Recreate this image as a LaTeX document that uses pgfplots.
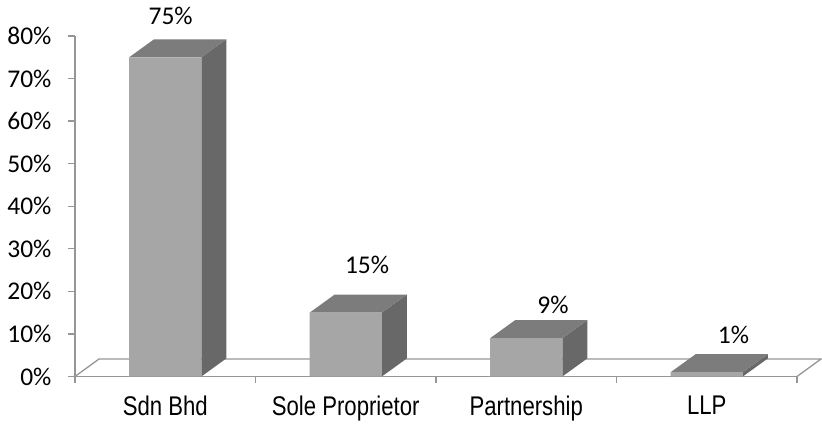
\documentclass[border=0pt]{standalone}
\usepackage{fontspec}
\setmainfont{Carlito}
\newfontfamily\narrowfont[FakeStretch=0.82]{Liberation Sans}
\usepackage{pgfplots}
\pgfplotsset{compat=1.18}
\definecolor{frontc}{RGB}{166,166,166}
\definecolor{topc}{RGB}{124,124,124}
\definecolor{sidec}{RGB}{104,104,104}
\definecolor{linec}{RGB}{150,150,150}
\begin{document}
\begin{tikzpicture}
\path[use as bounding box] (-75pt,-50.5pt) rectangle (747pt,376.5pt);
\begin{axis}[
  at={(0pt,0pt)}, anchor=south west,
  scale only axis, width=722pt, height=340.5pt,
  xmin=-0.5, xmax=3.5, ymin=0, ymax=80,
  clip=false,
  axis x line=bottom, axis y line=left,
  axis line style={draw=linec, line width=1.3pt, -},
  xtick={-0.5,0.5,1.5,2.5,3.5},
  xticklabels={Sdn Bhd,Sole Proprietor,Partnership,LLP},
  x tick label as interval,
  ytick={0,10,...,80},
  yticklabels={0\%,10\%,20\%,30\%,40\%,50\%,60\%,70\%,80\%},
  tick align=outside, major tick length=7pt,
  tick style={draw=linec, line width=1.3pt},
  every tick label/.append style={text=black},
  yticklabel style={font=\fontsize{25.5}{30}\selectfont, xshift=-13pt},
  xticklabel style={font=\narrowfont\fontsize{27}{32}\selectfont, yshift=-9pt},
  /pgf/number format/assume math mode=true,
]
% floor
\addplot[draw=linec, line width=1.3pt, mark=none] coordinates {(-0.5,0) (-0.367,4.11) (3.633,4.11) (3.5,0)};
% side faces
\addplot[fill=sidec, draw=none, mark=none] coordinates {(0.2,0) (0.338,4.23) (0.338,79.23) (0.2,75)} --cycle;
\addplot[fill=sidec, draw=none, mark=none] coordinates {(1.2,0) (1.338,4.23) (1.338,19.23) (1.2,15)} --cycle;
\addplot[fill=sidec, draw=none, mark=none] coordinates {(2.2,0) (2.338,4.23) (2.338,13.23) (2.2,9)} --cycle;
\addplot[fill=sidec, draw=none, mark=none] coordinates {(3.2,0) (3.338,4.23) (3.338,5.23) (3.2,1)} --cycle;
% top faces
\addplot[fill=topc, draw=none, mark=none] coordinates {(-0.2,75) (0.2,75) (0.338,79.23) (-0.062,79.23)} --cycle;
\addplot[fill=topc, draw=none, mark=none] coordinates {(0.8,15) (1.2,15) (1.338,19.23) (0.938,19.23)} --cycle;
\addplot[fill=topc, draw=none, mark=none] coordinates {(1.8,9) (2.2,9) (2.338,13.23) (1.938,13.23)} --cycle;
\addplot[fill=topc, draw=none, mark=none] coordinates {(2.8,1) (3.2,1) (3.338,5.23) (2.938,5.23)} --cycle;
% front faces
\addplot[ybar, bar width=0.4, fill=frontc, draw=none] coordinates {(0,75) (1,15) (2,9) (3,1)};
% value labels
\addplot[only marks, mark=none, point meta=explicit symbolic,
  nodes near coords, nodes near coords align={center},
  every node near coord/.append style={anchor=center, font=\fontsize{25.5}{30}\selectfont, text=black}]
  coordinates {(0.03,84.7) [75\%] (1.118,26.3) [15\%] (2.148,16.8) [9\%] (3.148,9.75) [1\%]};
\end{axis}
\end{tikzpicture}
\end{document}
